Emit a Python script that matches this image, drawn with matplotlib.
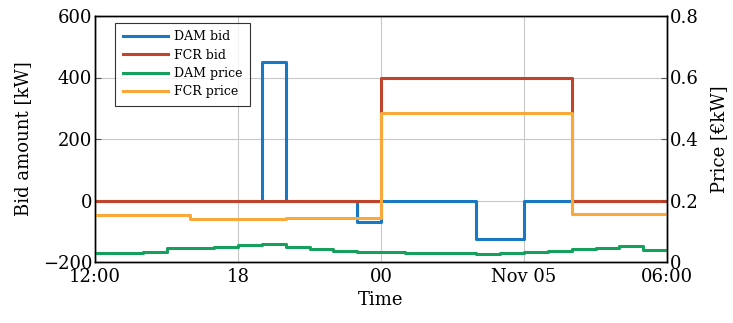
import matplotlib
matplotlib.use("Agg")
import matplotlib.pyplot as plt
import numpy as np

plt.rcParams['font.family'] = ['DejaVu Serif']
plt.rcParams['axes.unicode_minus'] = True

# hours since 12:00
hour_edges = list(range(0, 25))
block_edges = [0, 4, 8, 12, 16, 20, 24]

dam_bid = [0, 0, 0, 0, 0, 0, 0, 450, 0, 0, 0, -70,
           0, 0, 0, 0, -125, -125, 0, 0, 0, 0, 0, 0]
fcr_bid = [0, 0, 0, 400, 400, 0]
dam_price = [0.030, 0.030, 0.034, 0.044, 0.044, 0.048, 0.056, 0.060, 0.050, 0.042, 0.035, 0.031,
             0.031, 0.030, 0.029, 0.028, 0.027, 0.028, 0.031, 0.037, 0.043, 0.047, 0.052, 0.040]
fcr_price = [0.153, 0.140, 0.143, 0.484, 0.484, 0.156]

xtick_pos = [0, 6, 12, 18, 24]
xtick_labels = ["12:00", "18", "00", "Nov 05", "06:00"]
left_ticks = [-200, 0, 200, 400, 600]
right_ticks = [0, 0.2, 0.4, 0.6, 0.8]
right_labels = ["0", "0.2", "0.4", "0.6", "0.8"]

c_blue = "#1a78c2"
c_red = "#c0432b"
c_green = "#17a05d"
c_orange = "#f9a83a"

fig = plt.figure(figsize=(7.33, 3.23), dpi=100)
ax = fig.add_axes([95/733, 1-262/323, (667-95)/733, (262-16)/323])
ax2 = ax.twinx()

lw = 2.2
l1, = ax.step(hour_edges, dam_bid + [dam_bid[-1]], where='post', color=c_blue, lw=lw, label='DAM bid')
l2, = ax.step(block_edges, fcr_bid + [fcr_bid[-1]], where='post', color=c_red, lw=lw, label='FCR bid')
l3, = ax2.step(hour_edges, dam_price + [dam_price[-1]], where='post', color=c_green, lw=lw, label='DAM price')
l4, = ax2.step(block_edges, fcr_price + [fcr_price[-1]], where='post', color=c_orange, lw=lw, label='FCR price')

ax.set_xlim(0, 24)
ax.set_ylim(-200, 600)
ax2.set_ylim(0, 0.8)
ax.set_xticks(xtick_pos)
ax.set_xticklabels(xtick_labels)
ax.set_yticks(left_ticks)
ax2.set_yticks(right_ticks)
ax2.set_yticklabels(right_labels)

ax.grid(True, color='#c8c8c8', lw=0.8)
ax.set_axisbelow(True)

fs = 13
ax.tick_params(axis='both', direction='in', labelsize=fs, length=4, pad=2, color='#555555')
ax.tick_params(axis='x', length=0, pad=4)
ax2.tick_params(axis='y', direction='in', labelsize=fs, length=4, pad=2, color='#555555')
for a in (ax, ax2):
    for s in a.spines.values():
        s.set_linewidth(1.0)
        s.set_color('black')

ax.set_xlabel('Time', fontsize=fs, labelpad=4)
ax.set_ylabel('Bid amount [kW]', fontsize=fs, labelpad=8)
ax2.set_ylabel('Price [€kW]', fontsize=fs, labelpad=8)

leg = ax2.legend(handles=[l1, l2, l3, l4], loc='upper left', bbox_to_anchor=(0.035, 0.972),
                 fontsize=9, frameon=True, fancybox=False, edgecolor='black',
                 borderaxespad=0, handlelength=3.6, handletextpad=0.5,
                 labelspacing=0.42, borderpad=0.6)
leg.get_frame().set_linewidth(0.8)

fig.savefig('out.png', dpi=100)
